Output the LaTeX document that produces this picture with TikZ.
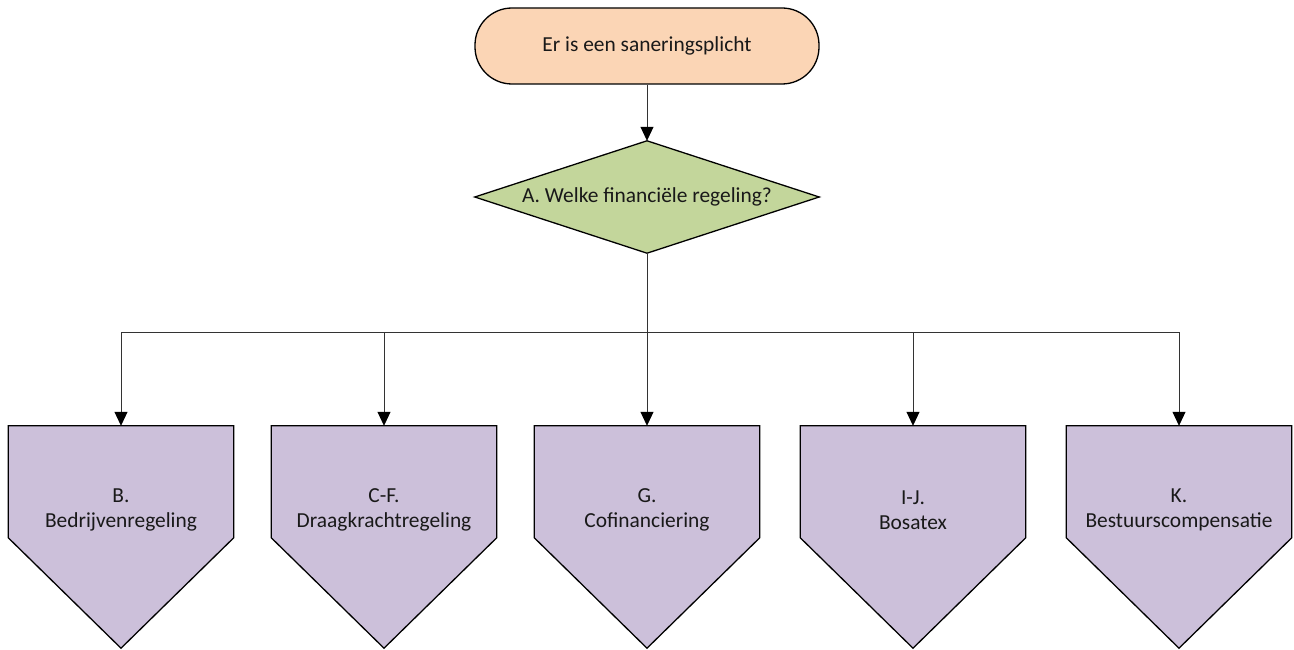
\documentclass[tikz,border=0pt]{standalone}
\usepackage{fontspec}
\setmainfont{Carlito}
\usetikzlibrary{arrows.meta}
\definecolor{peach}{HTML}{FBD5B5}
\definecolor{sage}{HTML}{C3D69B}
\definecolor{lilac}{HTML}{CCC0DA}
\definecolor{conncol}{HTML}{333333}
\tikzset{
  txt/.style={font=\fontsize{21.4}{25}\selectfont, text=black!90, align=center},
  outline/.style={draw=black, line width=1.3pt, line join=miter},
  conn/.style={draw=conncol, line width=0.8pt, -{Triangle[length=14pt,width=13pt,color=black]}},
  line/.style={draw=conncol, line width=0.8pt},
  box/.style={minimum width=225pt, minimum height=222pt, inner sep=0pt, draw=none}
}
\begin{document}
\begin{tikzpicture}[x=1pt,y=-1pt]
\useasboundingbox (0,0) rectangle (1294,650);
% start
\node[outline, fill=peach, rounded corners=37pt, minimum width=344pt, minimum height=76pt, inner sep=0pt, txt] (start) at (647,46) {Er is een saneringsplicht};
% decision
\node[minimum width=344pt, minimum height=112pt, inner sep=0pt] (dec) at (647,197) {};
\filldraw[outline, fill=sage] (dec.west) -- (dec.north) -- (dec.east) -- (dec.south) -- cycle;
\node[txt] (dectxt) at (dec.center) {A. Welke financiële regeling?};
% pentagons
\foreach \n/\x/\a/\b in {p1/121/B./Bedrijvenregeling, p2/384/C-F./Draagkrachtregeling, p3/647/G./Cofinanciering, p4/913/I-J./Bosatex, p5/1179/K./Bestuurscompensatie}{
  \node[box] (\n) at (\x,537) {};
  \filldraw[outline, fill=lilac] (\n.north west) -- (\n.north east) -- ([yshift=-112pt]\n.north east) -- (\n.south) -- ([yshift=-112pt]\n.north west) -- cycle;
  \node[txt] (\n t) at (\x,510) {\a\\\b};
}
% connectors
\draw[conn] (start.south) -- (dec.north);
\coordinate (bus) at (647,332);
\draw[line] (dec.south) -- (bus);
\draw[conn] (bus) -- (p3.north);
\draw[conn] (bus) -| (p1.north);
\draw[conn] (bus) -| (p2.north);
\draw[conn] (bus) -| (p4.north);
\draw[conn] (bus) -| (p5.north);
\end{tikzpicture}
\end{document}
